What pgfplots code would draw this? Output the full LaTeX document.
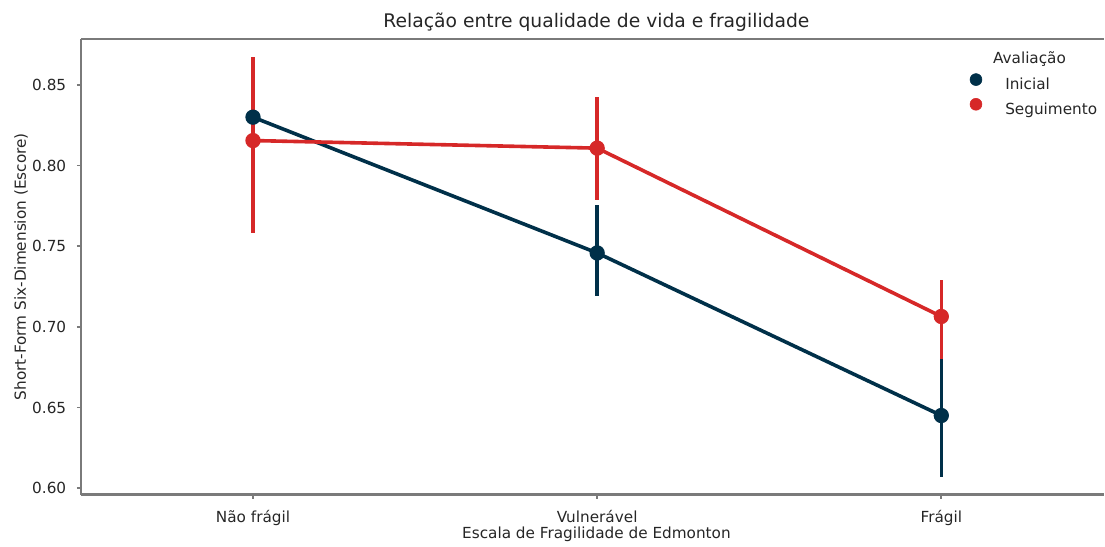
\documentclass[border=0pt]{standalone}
\usepackage{fontspec}
\setmainfont{DejaVu Sans}
\usepackage{pgfplots}
\pgfplotsset{compat=1.18}
\definecolor{navy}{HTML}{003049}
\definecolor{crim}{HTML}{D62828}
\definecolor{spine}{HTML}{7A7A7A}
\definecolor{txt}{HTML}{262626}
\begin{document}
\begin{tikzpicture}
\begin{axis}[
  at={(0,0)}, anchor=south west, scale only axis,
  width=737.28pt, height=328.32pt,
  xmin=-0.5, xmax=2.4726, ymin=0.596, ymax=0.8785,
  axis x line*=box, axis y line*=left,
  axis line style={-, draw=spine, line width=1.5pt},
  xtick={0,1,2}, xticklabels={Não frágil, Vulnerável, Frágil},
  ytick={0.60,0.65,0.70,0.75,0.80,0.85},
  yticklabel={\pgfmathprintnumber[fixed,fixed zerofill,precision=2]{\tick}},
  /pgf/number format/assume math mode=true,
  tick align=outside, xtick pos=left, ytick pos=left,
  major tick length=2.9pt,
  tick style={draw=spine, line width=1.25pt},
  ticklabel style={font=\fontsize{11}{13}\selectfont, text=txt},
  xticklabel style={anchor=base, yshift=-17.3pt},
  yticklabel style={anchor=east, inner sep=0pt, xshift=-7.5pt},
  clip=false,
  legend cell align=left,
  legend image code/.code={\fill[#1] (0pt,3pt) circle (4.3pt);},
  legend style={draw=none, fill=none, inner sep=0pt, outer sep=0pt,
    at={(rel axis cs:0.8688,0.9245)}, anchor=north west,
    font=\fontsize{11}{13}\selectfont, text=txt,
    row sep=6.3pt, column sep=0pt,
    nodes={inner sep=0pt, text depth=0pt, text height=8pt},
    /tikz/every odd column/.append style={column sep=16.6pt}},
]
\addplot[navy, line width=2.6pt, mark=*, mark size=4.2pt, forget plot,
  error bars/.cd, y dir=both, y explicit, error mark=none,
  error bar style={line width=2.6pt, navy}]
  coordinates {
  (0,0.830) += (0,0.034) -= (0,0.033)
  (1,0.7458) += (0,0.0299) -= (0,0.027)
  (2,0.645) += (0,0.038) -= (0,0.0382)
  };
\addplot[crim, line width=2.6pt, mark=*, mark size=4.2pt, forget plot,
  error bars/.cd, y dir=both, y explicit, error mark=none,
  error bar style={line width=2.6pt, crim}]
  coordinates {
  (0,0.8155) += (0,0.0516) -= (0,0.0573)
  (1,0.8108) += (0,0.0318) -= (0,0.032)
  (2,0.7064) += (0,0.0229) -= (0,0.0266)
  };
\addlegendimage{navy}
\addlegendentry{Inicial}
\addlegendimage{crim}
\addlegendentry{Seguimento}
\node[anchor=base, font=\fontsize{11}{13}\selectfont, text=txt] at (rel axis cs:0.9272,0.9452) {Avaliação};
\node[anchor=base, font=\fontsize{13.5}{16}\selectfont, text=txt] at ([yshift=7.9pt]rel axis cs:0.5039,1) {Relação entre qualidade de vida e fragilidade};
\node[anchor=base, font=\fontsize{11}{13}\selectfont, text=txt] at ([yshift=-31.7pt]rel axis cs:0.5039,0) {Escala de Fragilidade de Edmonton};
\node[rotate=90, anchor=center, font=\fontsize{11}{13}\selectfont, text=txt] at ([xshift=-43.2pt]rel axis cs:0,0.5) {Short-Form Six-Dimension (Escore)};
\end{axis}
\path[use as bounding box] (-58.32pt,-35.28pt) rectangle (737.28pt,356.4pt);
\end{tikzpicture}
\end{document}
